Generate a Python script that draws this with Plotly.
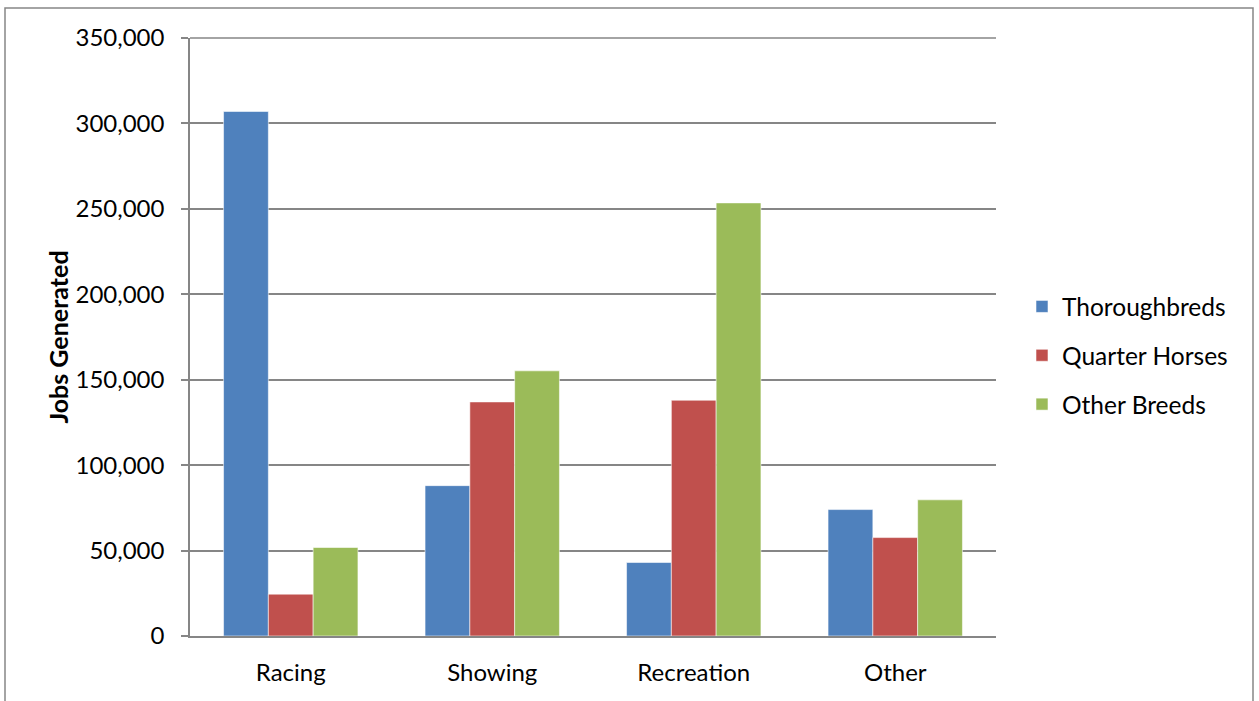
import plotly.graph_objects as go

categories = ["Racing", "Showing", "Recreation", "Other"]
thoroughbreds = [307000, 88000, 43000, 74000]
quarter_horses = [24500, 137000, 138000, 57600]
other_breeds = [51800, 155200, 253500, 79700]
series_names = ["Thoroughbreds", "Quarter Horses", "Other Breeds"]
colors = ["#4F81BD", "#C0504D", "#9BBB59"]
tick_vals = [0, 50000, 100000, 150000, 200000, 250000, 300000, 350000]

FONT = "Lato, 'Open Sans', sans-serif"

fig = go.Figure()
for name, vals, col in zip(series_names, [thoroughbreds, quarter_horses, other_breeds], colors):
    fig.add_trace(go.Bar(
        x=categories, y=vals, name=name, legendgroup=name,
        marker=dict(color=col, line=dict(color="rgba(255,255,255,0.55)", width=1)),
    ))

L, R, T, B = 190, 263, 38, 65
W, H = 1259, 701
pw, ph = W - L - R, H - T - B

fig.update_layout(
    width=W, height=H,
    margin=dict(l=L, r=R, t=T, b=B, pad=0),
    paper_bgcolor="white", plot_bgcolor="white",
    barmode="group", bargap=0.333, bargroupgap=0,
    font=dict(family=FONT, size=24, color="#000000"),
    legend=dict(
        x=(1022 - L) / pw, y=(636 - 284) / ph, xanchor="left", yanchor="top",
        font=dict(family=FONT, size=24.5, color="#000000"),
        tracegroupgap=14, traceorder="grouped",
        bgcolor="rgba(0,0,0,0)",
    ),
    xaxis=dict(
        showgrid=False, showline=True, linecolor="#868686", linewidth=1.5,
        ticks="", tickfont=dict(family=FONT, size=24), ticklabelstandoff=14,
    ),
    yaxis=dict(
        range=[tick_vals[0], tick_vals[-1]], tickvals=tick_vals, tickformat=",d",
        showgrid=True, gridcolor="#868686", gridwidth=1.5,
        showline=True, linecolor="#868686", linewidth=1.5,
        ticks="outside", ticklen=7, tickcolor="#868686", tickwidth=1.5,
        tickfont=dict(family=FONT, size=24), ticklabelstandoff=12,
        zeroline=False,
        title=dict(text="<b>Jobs Generated</b>", font=dict(family=FONT, size=25), standoff=0),
    ),
    shapes=[
        dict(
            type="rect", xref="paper", yref="paper",
            x0=(5 - L) / pw, x1=(1253 - L) / pw,
            y0=(636 - 720) / ph, y1=(636 - 8) / ph,
            line=dict(color="#868686", width=1.5), fillcolor="rgba(0,0,0,0)", layer="below",
        ),
        dict(
            type="line", xref="paper", yref="paper",
            x0=0, x1=1, y0=1, y1=1,
            line=dict(color="#868686", width=1.5), layer="below",
        ),
    ],
)

fig.write_html("out.html")
